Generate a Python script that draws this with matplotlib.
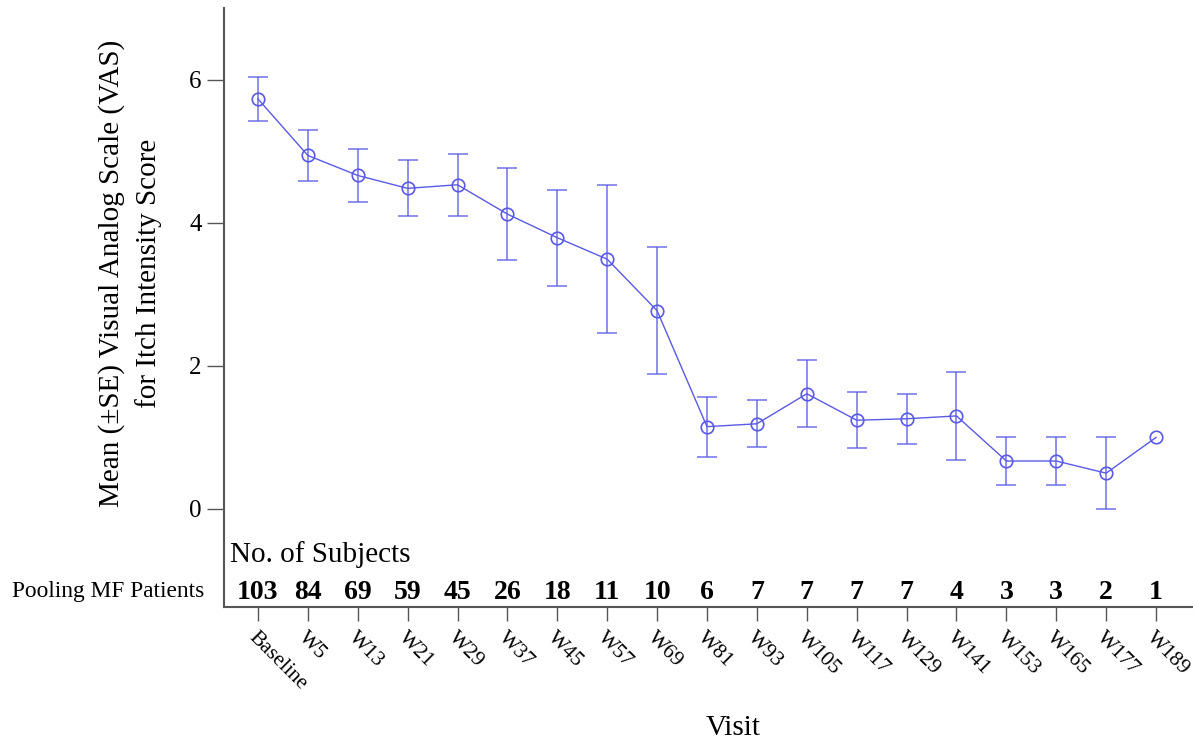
import matplotlib
matplotlib.use("Agg")
import matplotlib.pyplot as plt
import numpy as np

visits = ["Baseline", "W5", "W13", "W21", "W29", "W37", "W45", "W57", "W69", "W81",
          "W93", "W105", "W117", "W129", "W141", "W153", "W165", "W177", "W189"]
mean_vas = [5.73, 4.94, 4.66, 4.48, 4.53, 4.12, 3.79, 3.49, 2.77, 1.15,
            1.19, 1.61, 1.24, 1.26, 1.30, 0.67, 0.67, 0.50, 1.00]
se_vas = [0.31, 0.36, 0.37, 0.39, 0.43, 0.64, 0.67, 1.03, 0.89, 0.42,
          0.33, 0.47, 0.39, 0.35, 0.62, 0.33, 0.33, 0.50, 0.0]
n_subjects = [103, 84, 69, 59, 45, 26, 18, 11, 10, 6, 7, 7, 7, 7, 4, 3, 3, 2, 1]
yticks = [0, 2, 4, 6]

plt.rcParams['font.family'] = ['Liberation Serif', 'DejaVu Serif']

fig = plt.figure(figsize=(11.93, 7.41), dpi=100)
ax = fig.add_axes([224/1193, 1-607/741, 1-224/1193, (607-8)/741])

x = np.arange(len(visits))
color = '#5a5ae6'
yerr = np.array(se_vas)
mask = yerr > 0
ax.errorbar(x[mask], np.array(mean_vas)[mask], yerr=yerr[mask], fmt='none',
            ecolor=color, elinewidth=1.2, capsize=7, capthick=1.2, alpha=0.8)
ax.plot(x, mean_vas, color=color, lw=1.0, marker='o', markersize=9,
        markerfacecolor='none', markeredgecolor=color, markeredgewidth=1.2)

ax.set_xlim(-0.68, 18.74)
ax.set_ylim(-1.37, 7.0)
ax.set_yticks(yticks)
ax.set_yticklabels([str(v) for v in yticks], fontsize=18)
ax.set_xticks(x)
ax.set_xticklabels(visits, fontsize=15.5, rotation=-45, ha='left', va='top',
                   rotation_mode='anchor')
ax.tick_params(axis='x', length=10, width=1, color='#555555', pad=5)
ax.tick_params(axis='y', length=12, width=1, color='#555555', pad=4)

for s in ['top', 'right']:
    ax.spines[s].set_visible(False)
for s in ['left', 'bottom']:
    ax.spines[s].set_color('#555555')
    ax.spines[s].set_linewidth(1.5)

ax.set_ylabel("Mean (\u00b1SE) Visual Analog Scale (VAS)\nfor Itch Intensity Score",
              fontsize=21, linespacing=1.5)
ax.yaxis.set_label_coords(-0.064, 0.557)
fig.text(733/1193, 1-728/741, "Visit", fontsize=21, ha='center', va='center')

fig.text(230/1193, 1-555/741, "No. of Subjects", fontsize=21,
         ha='left', va='center')
fig.text(204/1193, 1-592/741, "Pooling MF Patients", fontsize=16.8,
         ha='right', va='center')
for xi, n in zip(x, n_subjects):
    ax.text(xi, -1.165, str(n), fontsize=20, fontweight='bold',
            ha='center', va='center')

fig.savefig("out.png", dpi=100)
